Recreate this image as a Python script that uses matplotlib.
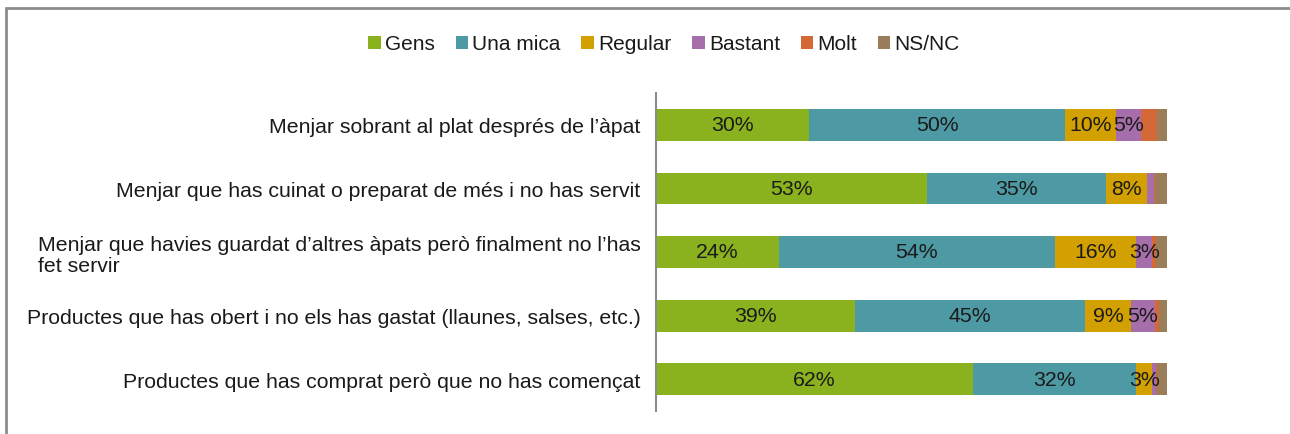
import matplotlib.pyplot as plt
from matplotlib import patches

plt.rcParams['font.family'] = ['Liberation Sans', 'DejaVu Sans']

categories = [
    "Menjar sobrant al plat després de l’àpat",
    "Menjar que has cuinat o preparat de més i no has servit",
    "Menjar que havies guardat d’altres àpats però finalment no l’has\nfet servir",
    "Productes que has obert i no els has gastat (llaunes, salses, etc.)",
    "Productes que has comprat però que no has començat",
]
series_names = ["Gens", "Una mica", "Regular", "Bastant", "Molt", "NS/NC"]
gens = [30, 53, 24, 39, 62]
una_mica = [50, 35, 54, 45, 32]
regular = [10, 8, 16, 9, 3]
bastant = [5, 1.4, 3, 4.6, 0.8]
molt = [3, 0.3, 0.8, 0.8, 0.3]
ns_nc = [2, 2.3, 2.2, 1.6, 1.9]

series = [gens, una_mica, regular, bastant, molt, ns_nc]
colors = ["#8AB21E", "#4E9AA4", "#D2A000", "#A66EAA", "#D46837", "#9A7E5A"]
labelled = [True, True, True, True, False, False]

fig = plt.figure(figsize=(12.9, 4.35), dpi=100)
ax = fig.add_axes([656 / 1290, 1 - 412 / 435, 511 / 1290, 318 / 435])

ypos = list(range(len(categories)))
left = [0.0] * len(categories)
handles = []
for name, vals, col, lab in zip(series_names, series, colors, labelled):
    bars = ax.barh(ypos, vals, left=left, height=0.5, color=col, label=name)
    handles.append(bars)
    if lab:
        for y, l, v in zip(ypos, left, vals):
            if v >= 2.5:
                ax.text(l + v / 2, y, f"{v:.0f}%", ha="center", va="center",
                        fontsize=15.3, color="#1a1a1a")
    left = [a + b for a, b in zip(left, vals)]

ax.set_xlim(0, 100)
ax.set_ylim(len(categories) - 0.5, -0.5)
ax.set_yticks(ypos)
ax.set_yticklabels(categories, fontsize=15.3, color="#1a1a1a")
for lbl in ax.get_yticklabels():
    lbl.set_multialignment("left")
    lbl.set_linespacing(1.15)
ax.tick_params(axis="y", length=0, pad=11)
ax.set_xticks([])
for s in ["top", "right", "bottom"]:
    ax.spines[s].set_visible(False)
ax.spines["left"].set_color("#8c8c8c")
ax.spines["left"].set_linewidth(1.5)

fig.legend(handles=handles, labels=series_names, loc="center",
           bbox_to_anchor=(664 / 1290, 1 - 45 / 435), ncol=6, frameon=False,
           fontsize=15, handlelength=0.6, handleheight=0.6,
           handletextpad=0.2, columnspacing=1.0, labelcolor="#1a1a1a")

# chart-area border (top and left visible)
fig.patches.append(patches.Rectangle(
    (6 / 1290, -0.1), 1.2, 1 - 9 / 435 + 0.1, transform=fig.transFigure,
    fill=False, edgecolor="#8c8c8c", linewidth=2))

fig.savefig("out.png", dpi=100, facecolor="white")
